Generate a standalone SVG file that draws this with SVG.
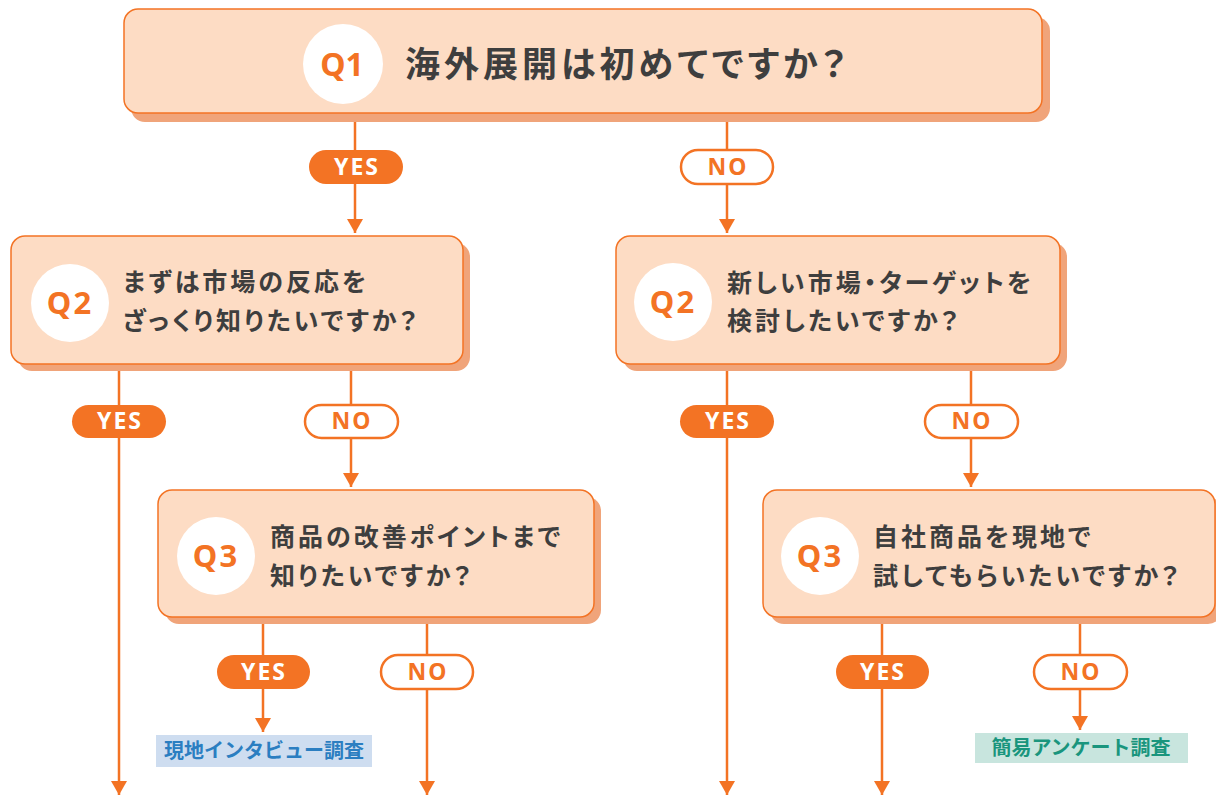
<svg xmlns="http://www.w3.org/2000/svg" width="1216" height="797" viewBox="0 0 1216 797">
<defs>
<style>
.shadow{fill:#F0A47A}
.box{fill:#FDDCC4;stroke:#F37324;stroke-width:1.5}
.circ{fill:#FFFFFF}
.qn{font-family:"Noto Sans","Noto Sans CJK JP",sans-serif;font-weight:700;fill:#F37324;text-anchor:middle}
.qt{font-family:"Noto Sans CJK JP",sans-serif;font-weight:700;fill:#3E3E3E;font-feature-settings:"palt"}
.line{stroke:#F37324;stroke-width:2.5;fill:none}
.yes{fill:#F37324}
.no{fill:#FFFFFF;stroke:#F37324;stroke-width:2.5}
.yt{font-family:"Noto Sans","Noto Sans CJK JP",sans-serif;font-weight:700;font-size:23px;fill:#FFFFFF;text-anchor:middle;letter-spacing:2px}
.nt{font-family:"Noto Sans","Noto Sans CJK JP",sans-serif;font-weight:700;font-size:23px;fill:#F37324;text-anchor:middle;letter-spacing:2px}
</style>
<marker id="arr" viewBox="0 0 14 16" refX="14" refY="8" markerWidth="14" markerHeight="16" markerUnits="userSpaceOnUse" orient="auto">
<path d="M0,0 L14,8 L0,16 Z" fill="#F37324"/>
</marker>
</defs>
<rect width="1216" height="797" fill="#FFFFFF"/>

<g id="connectors">
<line class="line" x1="355" y1="113" x2="355" y2="233" marker-end="url(#arr)"/>
<line class="line" x1="727" y1="113" x2="727" y2="233" marker-end="url(#arr)"/>
<line class="line" x1="119" y1="364" x2="119" y2="795" marker-end="url(#arr)"/>
<line class="line" x1="351" y1="364" x2="351" y2="487" marker-end="url(#arr)"/>
<line class="line" x1="727" y1="364" x2="727" y2="795" marker-end="url(#arr)"/>
<line class="line" x1="971" y1="364" x2="971" y2="487" marker-end="url(#arr)"/>
<line class="line" x1="263" y1="617" x2="263" y2="732" marker-end="url(#arr)"/>
<line class="line" x1="427" y1="617" x2="427" y2="795" marker-end="url(#arr)"/>
<line class="line" x1="882" y1="617" x2="882" y2="795" marker-end="url(#arr)"/>
<line class="line" x1="1080" y1="617" x2="1080" y2="730" marker-end="url(#arr)"/>
</g>

<g id="labels">
<rect class="yes" x="309" y="150" width="94" height="34" rx="17"/><text class="yt" x="357" y="175">YES</text>
<rect class="no" x="681" y="150" width="92" height="34" rx="17"/><text class="nt" x="728" y="175">NO</text>
<rect class="yes" x="72" y="405" width="94" height="33" rx="16.5"/><text class="yt" x="120" y="429">YES</text>
<rect class="no" x="305" y="405" width="93" height="33" rx="16.5"/><text class="nt" x="352" y="429">NO</text>
<rect class="yes" x="680" y="405" width="94" height="33" rx="16.5"/><text class="yt" x="728" y="429">YES</text>
<rect class="no" x="925" y="405" width="93" height="33" rx="16.5"/><text class="nt" x="972" y="429">NO</text>
<rect class="yes" x="217" y="655" width="93" height="34" rx="17"/><text class="yt" x="264" y="680">YES</text>
<rect class="no" x="381" y="655" width="92" height="34" rx="17"/><text class="nt" x="428" y="680">NO</text>
<rect class="yes" x="836" y="655" width="93" height="34" rx="17"/><text class="yt" x="883" y="680">YES</text>
<rect class="no" x="1034" y="655" width="93" height="34" rx="17"/><text class="nt" x="1081" y="680">NO</text>
</g>

<g id="q1">
<rect class="shadow" x="131" y="17" width="919" height="105" rx="14"/>
<rect class="box" x="124" y="9" width="918" height="104" rx="14"/>
<circle class="circ" cx="343" cy="64" r="40"/>
<text class="qn" x="342" y="76" font-size="32">Q1</text>
<text class="qt" x="405" y="77" font-size="35" letter-spacing="4">海外展開は初めてですか？</text>
</g>

<g id="q2-left">
<rect class="shadow" x="18" y="243" width="452" height="128" rx="14"/>
<rect class="box" x="11" y="236" width="452" height="128" rx="14"/>
<circle class="circ" cx="70" cy="303" r="39"/>
<text class="qn" x="70" y="314" font-size="31" letter-spacing="2">Q2</text>
<text class="qt" x="123" y="291" font-size="25" letter-spacing="3">まずは市場の反応を</text>
<text class="qt" x="123" y="330" font-size="25" letter-spacing="3">ざっくり知りたいですか？</text>
</g>

<g id="q2-right">
<rect class="shadow" x="623" y="243" width="444" height="128" rx="14"/>
<rect class="box" x="616" y="236" width="444" height="128" rx="14"/>
<circle class="circ" cx="673" cy="302" r="39"/>
<text class="qn" x="673" y="313" font-size="31" letter-spacing="2">Q2</text>
<text class="qt" x="727" y="292" font-size="25" letter-spacing="3">新しい市場・ターゲットを</text>
<text class="qt" x="727" y="330" font-size="25" letter-spacing="3">検討したいですか？</text>
</g>

<g id="q3-left">
<rect class="shadow" x="165" y="497" width="436" height="127" rx="14"/>
<rect class="box" x="158" y="490" width="436" height="127" rx="14"/>
<circle class="circ" cx="216" cy="556" r="39"/>
<text class="qn" x="216" y="567" font-size="31" letter-spacing="2">Q3</text>
<text class="qt" x="270" y="546" font-size="25" letter-spacing="3">商品の改善ポイントまで</text>
<text class="qt" x="270" y="585" font-size="25" letter-spacing="3">知りたいですか？</text>
</g>

<g id="q3-right">
<rect class="shadow" x="770" y="497" width="452" height="127" rx="14"/>
<rect class="box" x="763" y="490" width="452" height="127" rx="14"/>
<circle class="circ" cx="820" cy="556" r="39"/>
<text class="qn" x="820" y="567" font-size="31" letter-spacing="2">Q3</text>
<text class="qt" x="873" y="546" font-size="25" letter-spacing="3">自社商品を現地で</text>
<text class="qt" x="873" y="585" font-size="25" letter-spacing="3">試してもらいたいですか？</text>
</g>

<g id="result-interview">
<rect x="156" y="735" width="216" height="32" fill="#CEDDF0"/>
<text x="264" y="758" font-family="Noto Sans CJK JP, sans-serif" font-weight="700" font-size="20" fill="#2B7EC1" text-anchor="middle">現地インタビュー調査</text>
</g>

<g id="result-survey">
<rect x="975" y="733" width="213" height="30" fill="#C8E5DE"/>
<text x="1081" y="755" font-family="Noto Sans CJK JP, sans-serif" font-weight="700" font-size="20" fill="#1A957D" text-anchor="middle">簡易アンケート調査</text>
</g>
</svg>
